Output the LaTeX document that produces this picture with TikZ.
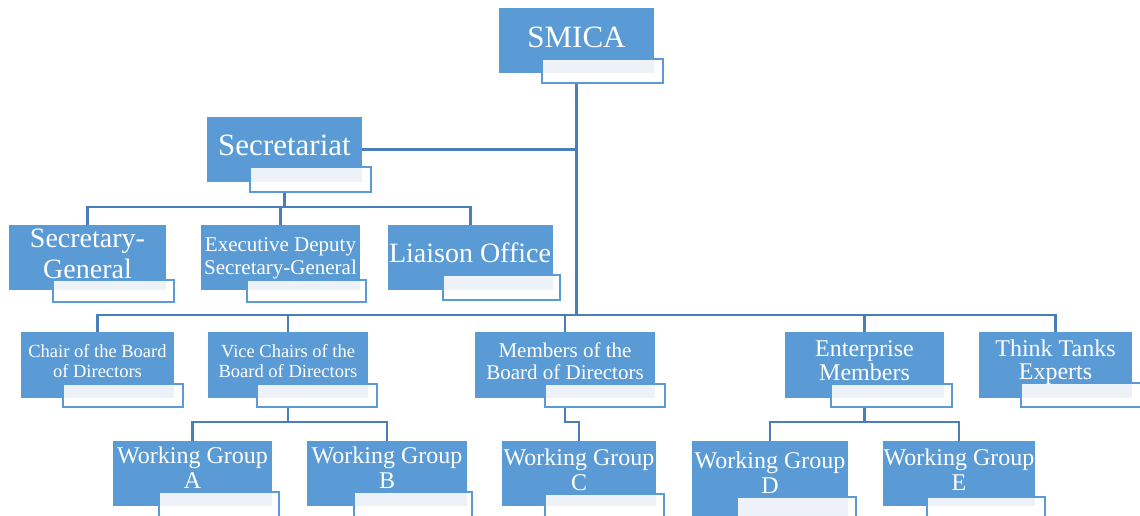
\documentclass[tikz,border=0pt]{standalone}
\usepackage{fontspec}
\setmainfont{Liberation Serif}
\usetikzlibrary{calc}
\pgfdeclarelayer{background}
\pgfsetlayers{background,main}
\definecolor{boxblue}{HTML}{5B9BD5}
\definecolor{subline}{HTML}{5B9BD5}
\definecolor{paleblue}{HTML}{EDF2F9}
\definecolor{connblue}{HTML}{4A7EBB}
\newcommand\fs[2]{\fontsize{#1}{#2}\selectfont}
\newcommand\lines[1]{\begin{tabular}[t]{@{}c@{}}#1\end{tabular}}
% name, main box x1 y1 x2 y2, secondary box x1 y1 x2 y2
\newcommand\orgbox[9]{%
  \node[mainbox,minimum width={(#4-#2)*1pt},minimum height={(#5-#3)*1pt}] (#1) at (#2,#3) {};
  \node[subbox,minimum width={(#8-#6)*1pt},minimum height={(#9-#7)*1pt}] (#1-sub) at (#6,#7) {};
  \fill[paleblue] ($(#6,#7)+(1,1)$) rectangle (#4,#5);
}
\tikzset{
  mainbox/.style={anchor=north west,rectangle,fill=boxblue,draw=none,inner sep=0pt,outer sep=0pt},
  subbox/.style={anchor=north west,rectangle,fill=white,draw=subline,line width=2pt,inner sep=0pt,outer sep=0pt},
  txt/.style={anchor=base,text=white,inner sep=0pt,outer sep=0pt},
  conn/.style={draw=connblue,line width=2.5pt}
}
\begin{document}
\begin{tikzpicture}[x=1pt,y=-1pt]
\useasboundingbox (0,0) rectangle (1140,515);
\clip (0,0) rectangle (1140,515);
\coordinate (b2) at (0,207);
\coordinate (b3) at (0,315);
\coordinate (b4) at (0,422);

\orgbox{smica}{499}{8}{654}{73}{542}{59}{663}{83}
\orgbox{sec}{207}{117}{362}{182}{250}{167}{371}{192}
\orgbox{sg}{9}{225}{166}{290}{53}{280}{174}{302}
\orgbox{esg}{201}{225}{360}{290}{247}{280}{366}{302}
\orgbox{lo}{388}{225}{553}{290}{443}{275}{560}{300}
\orgbox{chair}{21}{332}{174}{398}{63}{384}{183}{407}
\orgbox{vice}{208}{332}{368}{398}{257}{384}{377}{407}
\orgbox{mem}{475}{332}{655}{398}{545}{384}{665}{407}
\orgbox{ent}{785}{332}{944}{398}{831}{384}{952}{407}
\orgbox{think}{979}{332}{1132}{398}{1021}{383}{1145}{407}
\orgbox{wga}{113}{441}{272}{506}{159}{492}{279}{520}
\orgbox{wgb}{307}{441}{467}{506}{354}{492}{472}{520}
\orgbox{wgc}{502}{441}{656}{506}{545}{494}{664}{520}
\orgbox{wgd}{692}{441}{848}{525}{737}{497}{856}{525}
\orgbox{wge}{883}{441}{1035}{506}{927}{497}{1045}{520}

\node[txt,font=\fs{31}{31}] (smica-t) at (576.5,47) {SMICA};
\node[txt,font=\fs{31}{31}] (sec-t) at (284.5,155) {Secretariat};
\node[txt,font=\fs{28}{31}] (sg-t) at (87.5,247) {\lines{Secretary-\\General}};
\node[txt,font=\fs{21}{23}] (esg-t) at (280.5,251) {\lines{Executive Deputy\\Secretary-General}};
\node[txt,font=\fs{28}{31}] (lo-t) at (470,262) {Liaison Office};
\node[txt,font=\fs{18.5}{20.5}] (chair-t) at (97.5,357) {\lines{Chair of the Board\\of Directors}};
\node[txt,font=\fs{18.5}{20.5}] (vice-t) at (288,357) {\lines{Vice Chairs of the\\Board of Directors}};
\node[txt,font=\fs{21}{22}] (mem-t) at (565,357) {\lines{Members of the\\Board of Directors}};
\node[txt,font=\fs{24}{24}] (ent-t) at (864.5,356) {\lines{Enterprise\\Members}};
\node[txt,font=\fs{24}{23.5}] (think-t) at (1055.5,356) {\lines{Think Tanks\\Experts}};
\node[txt,font=\fs{24}{25}] (wga-t) at (192.5,463) {\lines{Working Group\\A}};
\node[txt,font=\fs{24}{25}] (wgb-t) at (387,463) {\lines{Working Group\\B}};
\node[txt,font=\fs{24}{25}] (wgc-t) at (579,465) {\lines{Working Group\\C}};
\node[txt,font=\fs{24}{25}] (wgd-t) at (770,468) {\lines{Working Group\\D}};
\node[txt,font=\fs{24}{25}] (wge-t) at (959,465) {\lines{Working Group\\E}};

\begin{pgfonlayer}{background}
\draw[conn] (smica.south) -- (smica.south |- b3);
\draw[conn] (sec.east) -- (sec.east -| smica.south);
\draw[conn] (sec.south) -- (sec.south |- b2);
\draw[conn] (sg.north) -- (sg.north |- b2) -| (lo.north);
\draw[conn] (esg.north) -- (esg.north |- b2);
\draw[conn] (chair.north) -- (chair.north |- b3) -| (think.north);
\draw[conn] (vice.north) -- (vice.north |- b3);
\draw[conn] (mem.north) -- (mem.north |- b3);
\draw[conn] (ent.north) -- (ent.north |- b3);
\draw[conn] (vice.south) -- (vice.south |- b4);
\draw[conn] (wga.north) -- (wga.north |- b4) -| (wgb.north);
\draw[conn] (mem.south) -- (mem.south |- b4) -| (wgc.north);
\draw[conn] (ent.south) -- (ent.south |- b4);
\draw[conn] (wgd.north) -- (wgd.north |- b4) -| (wge.north);
\end{pgfonlayer}
\end{tikzpicture}
\end{document}
